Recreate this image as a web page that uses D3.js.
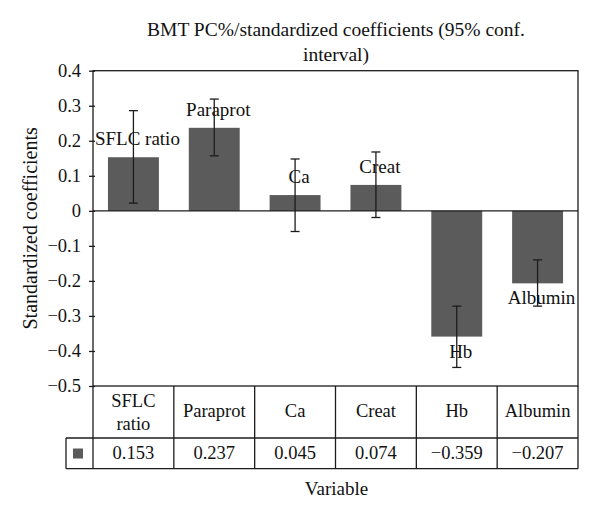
<!DOCTYPE html>
<html>
<head>
<meta charset="utf-8">
<script src="https://cdn.jsdelivr.net/npm/d3@7"></script>
<style>
  body { margin: 0; background: #fff; }
  text { font-family: "Liberation Serif", "Times New Roman", serif; fill: #111; }
</style>
</head>
<body>
<script>

// chart data
var categories = ["SFLC ratio", "Paraprot", "Ca", "Creat", "Hb", "Albumin"];
var headerLines = [["SFLC", "ratio"], ["Paraprot"], ["Ca"], ["Creat"], ["Hb"], ["Albumin"]];
var values = [0.153, 0.237, 0.045, 0.074, -0.359, -0.207];
var ciLow = [0.022, 0.157, -0.059, -0.019, -0.447, -0.272];
var ciHigh = [0.286, 0.319, 0.148, 0.168, -0.272, -0.140];
var valueLabels = ["0.153", "0.237", "0.045", "0.074", "\u22120.359", "\u22120.207"];
var yTicks = [0.4, 0.3, 0.2, 0.1, 0, -0.1, -0.2, -0.3, -0.4, -0.5];

var width = 600,
    height = 517;

var plot = {left: 93, right: 578, top: 70.7, bottom: 386};
var tableRow1 = 438, tableRow2 = 468.7, keyLeft = 66;
var barColor = "#5b5b5b",
    lineColor = "#1c1c1c";

var svg = d3.select("body")
            .append("svg")
            .attr("width", width)
            .attr("height", height);

var rows = categories.map(function(c, i) {
    return {cat: c, value: values[i], lo: ciLow[i], hi: ciHigh[i], label: valueLabels[i], header: headerLines[i]};
});

var y = d3.scaleLinear()
          .domain([-0.5, 0.4])
          .range([plot.bottom, plot.top]);

var x = d3.scaleBand()
          .domain(categories)
          .range([plot.left, plot.right])
          .paddingInner(0.37)
          .paddingOuter(0.185);

// columns of the data table under the plot
var col = d3.scaleBand()
            .domain(categories)
            .range([plot.left, plot.right]);

// bars
svg.append("g")
    .selectAll("rect")
    .data(rows)
  .enter().append("rect")
    .attr("x", function(d) { return x(d.cat); })
    .attr("width", x.bandwidth())
    .attr("y", function(d) { return y(Math.max(0, d.value)); })
    .attr("height", function(d) { return Math.abs(y(d.value) - y(0)); })
    .style("fill", barColor);

// plot frame
svg.append("rect")
    .attr("x", plot.left)
    .attr("y", plot.top)
    .attr("width", plot.right - plot.left)
    .attr("height", plot.bottom - plot.top)
    .style("fill", "none")
    .style("stroke", lineColor)
    .style("stroke-width", 1.3);

// zero line
svg.append("line")
    .attr("x1", plot.left).attr("x2", plot.right)
    .attr("y1", y(0)).attr("y2", y(0))
    .style("stroke", lineColor)
    .style("stroke-width", 1.3);

// y axis
var yAxis = d3.axisLeft(y)
              .tickValues(yTicks)
              .tickSize(4)
              .tickPadding(8)
              .tickFormat(function(d) { return d === 0 ? "0" : d3.format(".1f")(d); });

var gy = svg.append("g")
            .attr("transform", "translate(" + plot.left + ",0)")
            .call(yAxis);
gy.select(".domain").remove();
gy.selectAll(".tick line")
    .attr("x1", 2)
    .style("stroke", lineColor)
    .style("stroke-width", 1.3);
gy.selectAll(".tick text")
    .style("font-family", "'Liberation Serif', serif")
    .style("font-size", "18.5px")
    .style("fill", "#111");

// error bars
var eb = svg.append("g")
            .selectAll("g")
            .data(rows)
          .enter().append("g")
            .style("stroke", lineColor)
            .style("stroke-width", 1.3);

eb.append("line")
    .attr("x1", function(d) { return x(d.cat) + x.bandwidth() / 2; })
    .attr("x2", function(d) { return x(d.cat) + x.bandwidth() / 2; })
    .attr("y1", function(d) { return y(d.hi); })
    .attr("y2", function(d) { return y(d.lo); });

["hi", "lo"].forEach(function(k) {
    eb.append("line")
        .attr("x1", function(d) { return x(d.cat) + x.bandwidth() / 2 - 4.5; })
        .attr("x2", function(d) { return x(d.cat) + x.bandwidth() / 2 + 4.5; })
        .attr("y1", function(d) { return y(d[k]); })
        .attr("y2", function(d) { return y(d[k]); });
});

// category labels at the end of each bar
svg.append("g")
    .selectAll("text")
    .data(rows)
  .enter().append("text")
    .attr("x", function(d) { return x(d.cat) + x.bandwidth() / 2 + 4; })
    .attr("y", function(d) { return d.value >= 0 ? y(d.value) - 12 : y(d.value) + 21; })
    .attr("text-anchor", "middle")
    .style("font-size", "19px")
    .text(function(d) { return d.cat; });

// data table
var table = svg.append("g")
               .style("stroke", lineColor)
               .style("stroke-width", 1.3);

table.append("line")
    .attr("x1", keyLeft).attr("x2", plot.right)
    .attr("y1", tableRow1).attr("y2", tableRow1);
table.append("line")
    .attr("x1", keyLeft).attr("x2", plot.right)
    .attr("y1", tableRow2).attr("y2", tableRow2);
table.append("line")
    .attr("x1", keyLeft).attr("x2", keyLeft)
    .attr("y1", tableRow1).attr("y2", tableRow2);

table.selectAll("line.col")
    .data(categories)
  .enter().append("line")
    .attr("class", "col")
    .attr("x1", function(d) { return col(d) + col.bandwidth(); })
    .attr("x2", function(d) { return col(d) + col.bandwidth(); })
    .attr("y1", plot.bottom)
    .attr("y2", tableRow2);
table.append("line")
    .attr("x1", plot.left).attr("x2", plot.left)
    .attr("y1", plot.bottom).attr("y2", tableRow2);

// header cells
var head = svg.append("g")
              .selectAll("text")
              .data(rows)
            .enter().append("text")
              .attr("text-anchor", "middle")
              .style("font-size", "18.5px");

head.each(function(d) {
    var t = d3.select(this);
    var cx = col(d.cat) + col.bandwidth() / 2;
    var base = d.header.length > 1 ? 406.5 : 417;
    d.header.forEach(function(line, i) {
        t.append("tspan")
            .attr("x", cx)
            .attr("y", base + i * 23.5)
            .text(line);
    });
});

// value cells
svg.append("g")
    .selectAll("text")
    .data(rows)
  .enter().append("text")
    .attr("x", function(d) { return col(d.cat) + col.bandwidth() / 2; })
    .attr("y", 458.5)
    .attr("text-anchor", "middle")
    .style("font-size", "18.5px")
    .text(function(d) { return d.label; });

// legend key
svg.append("rect")
    .attr("x", 73)
    .attr("y", 448.5)
    .attr("width", 10)
    .attr("height", 10)
    .style("fill", barColor);

// titles
var title = svg.append("text")
               .attr("text-anchor", "middle")
               .style("font-size", "19.5px");
title.append("tspan").attr("x", 336).attr("y", 36)
    .text("BMT PC%/standardized coefficients (95% conf.");
title.append("tspan").attr("x", 336).attr("y", 61)
    .text("interval)");

svg.append("text")
    .attr("transform", "translate(37," + (plot.top + plot.bottom) / 2 + ") rotate(-90)")
    .attr("text-anchor", "middle")
    .style("font-size", "20px")
    .text("Standardized coefficients");

svg.append("text")
    .attr("x", 336.5)
    .attr("y", 495)
    .attr("text-anchor", "middle")
    .style("font-size", "19px")
    .text("Variable");

</script>
</body>
</html>
